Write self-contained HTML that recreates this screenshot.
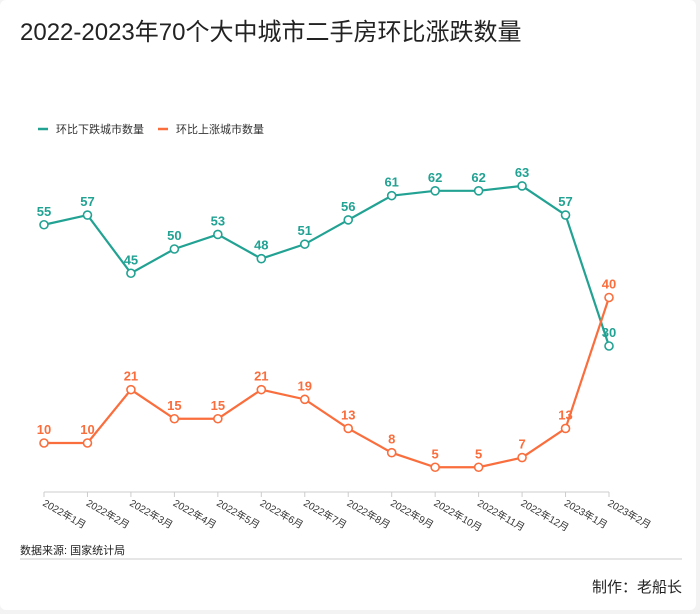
<!DOCTYPE html>
<html><head><meta charset="utf-8"><style>
html,body{margin:0;padding:0;background:#f3f3f3;}
#card{position:absolute;left:0;top:0;width:696px;height:610px;background:#fff;border-radius:6px;font-family:"Liberation Sans","Noto Sans CJK SC",sans-serif;}
</style></head><body>
<div id="card">
<svg id="chart" width="700" height="614" style="position:absolute;left:0;top:0"></svg>
</div>
<script>
const categories=["2022年1月","2022年2月","2022年3月","2022年4月","2022年5月","2022年6月","2022年7月","2022年8月","2022年9月","2022年10月","2022年11月","2022年12月","2023年1月","2023年2月"];
const fallValues=[55,57,45,50,53,48,51,56,61,62,62,63,57,30];
const riseValues=[10,10,21,15,15,21,19,13,8,5,5,7,13,40];
const seriesNames=["环比下跌城市数量","环比上涨城市数量"];
const colors=["#22a293","#fa6e3d"];
const NS="http://www.w3.org/2000/svg";
const svg=document.getElementById('chart');
function x(i){return 44+i*(609-44)/(categories.length-1);}
function y(v){return 491.5-4.85*v;}
function el(t,a,p){const e=document.createElementNS(NS,t);for(const k in a)e.setAttribute(k,a[k]);(p||svg).appendChild(e);return e;}
const font='"Liberation Sans","Noto Sans CJK SC",sans-serif';
let t=el('text',{x:20,y:40,'font-size':24,fill:'#222','font-family':font});
t.textContent="2022-2023年70个大中城市二手房环比涨跌数量";


// legend
[0,1].forEach(k=>{
 const lx=k===0?38:158;
 const g=el('g',{});
 
 
 el('line',{x1:lx,y1:129,x2:lx+10,y2:129,stroke:colors[k],'stroke-width':2.5},g);
 const tt=el('text',{x:lx+18,y:133,'font-size':11,fill:'#333','font-family':font},g);
 tt.textContent=seriesNames[k];
});
// axis
const ax=el('line',{x1:44,y1:492,x2:609,y2:492,stroke:'#ccc','stroke-width':1});


categories.forEach((c,i)=>{
 el('line',{x1:x(i),y1:492,x2:x(i),y2:497,stroke:'#ccc'});
 const lb=el('text',{x:x(i)-2,y:505,'font-size':10,fill:'#333','font-family':font,transform:`rotate(30 ${x(i)-2} 505)`});
 lb.textContent=c;
 
 
});
[fallValues,riseValues].forEach((vals,k)=>{
 const p=el('polyline',{points:vals.map((v,i)=>x(i)+','+y(v)).join(' '),fill:'none',stroke:colors[k],'stroke-width':2.2});
 
 
 vals.forEach((v,i)=>{
  const c=el('circle',{cx:x(i),cy:y(v),r:4,fill:'#fff',stroke:colors[k],'stroke-width':1.6});
  
  
  const l=el('text',{x:x(i),y:y(v)-9,'text-anchor':'middle','font-size':13,'font-weight':'bold',fill:colors[k],'font-family':font});
  l.textContent=v;
  
  
 });
});
t=el('text',{x:20,y:554,'font-size':11,fill:'#222','font-family':font});
t.textContent="数据来源: 国家统计局";


el('line',{x1:20,y1:559,x2:682,y2:559,stroke:'#ddd','stroke-width':1.5});
t=el('text',{x:682,y:592,'text-anchor':'end','font-size':15,fill:'#222','font-family':font});
t.textContent="制作：老船长";


</script>
</body></html>
